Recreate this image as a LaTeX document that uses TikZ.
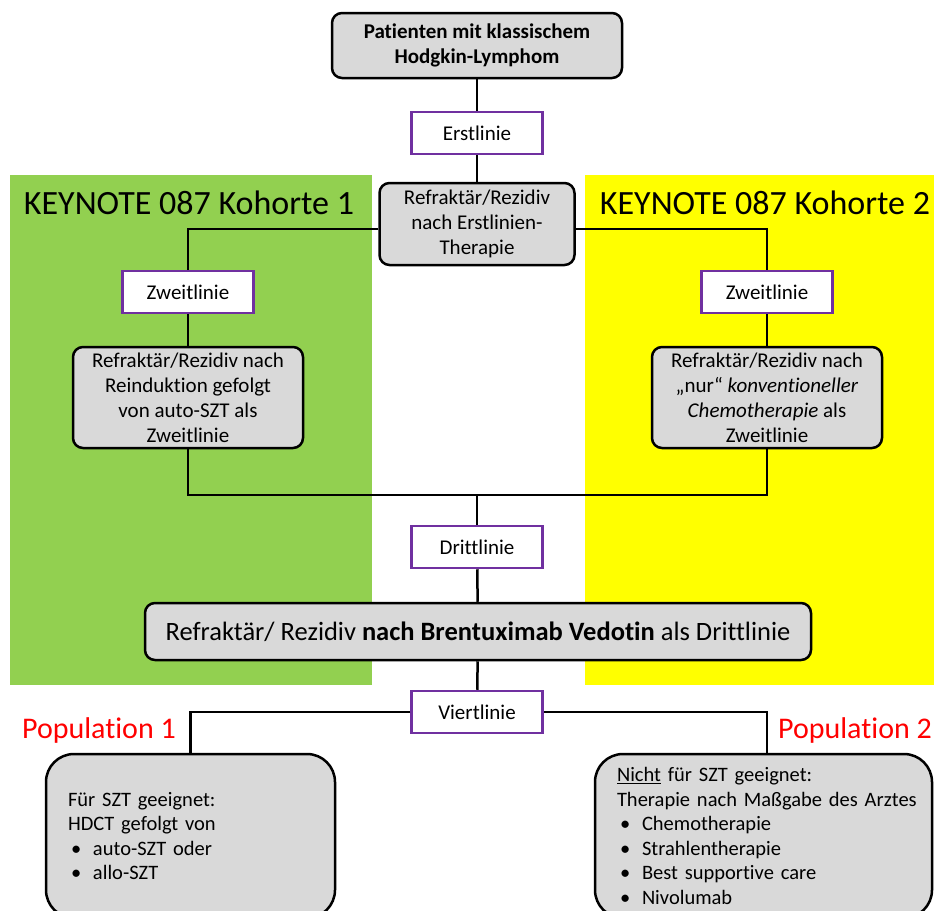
\documentclass[tikz,border=0pt]{standalone}
\usepackage{fontspec}
\setmainfont{Carlito}[Ligatures=NoCommon]
\definecolor{gruen}{HTML}{92D050}
\definecolor{gelb}{HTML}{FFFF00}
\definecolor{grau}{HTML}{D9D9D9}
\definecolor{lila}{HTML}{7030A0}
\newcommand{\aufz}{\makebox[25pt][l]{\hspace{3pt}\textbullet}}

\begin{document}
\begin{tikzpicture}[x=1pt,y=-1pt,
  box/.style={draw,line width=2.5pt,fill=grau,rounded corners=10pt,align=center,
    font=\fontsize{21}{25}\selectfont},
  linie/.style={draw=lila,line width=2.5pt,fill=white,minimum width=131pt,
    minimum height=42pt,font=\fontsize{21}{25}\selectfont},
  titel/.style={font=\fontsize{34}{38}\selectfont},
  pop/.style={text=red,font=\fontsize{30}{34}\selectfont},
  verb/.style={line width=2.5pt}]

\useasboundingbox (0,0) rectangle (934,910);
\clip (0,0) rectangle (934,910);

% Kohorten
\fill[gruen] (10,175) rectangle (372,685);
\fill[gelb] (585,175) rectangle (934,685);

\node[titel]
(T1)
at (189,203)
{KEYNOTE 087 Kohorte 1};

\node[titel]
(T2)
at (765,203)
{KEYNOTE 087 Kohorte 2};

% Patienten
\node[box,minimum width=290pt,minimum height=65pt]
(PH)
at (477,45.5)
{\textbf{Patienten mit klassischem}\\\textbf{Hodgkin-Lymphom}};

\node[linie]
(E1)
at (477,133)
{Erstlinie};

\node[box,minimum width=195pt,minimum height=82pt]
(R1)
at (477,224)
{Refraktär/Rezidiv\\nach Erstlinien-\\Therapie};

% Zweitlinie
\node[linie]
(Z1)
at (188,292)
{Zweitlinie};

\node[linie]
(Z2)
at (767,292)
{Zweitlinie};

\node[box,minimum width=230pt,minimum height=101pt]
(K1)
at (188,397.5)
{Refraktär/Rezidiv nach\\Reinduktion gefolgt\\von auto-SZT als\\Zweitlinie};

\node[box,minimum width=230pt,minimum height=101pt]
(K2)
at (767,397.5)
{Refraktär/Rezidiv nach\\„nur“ \textit{konventioneller}\\\textit{Chemotherapie} als\\Zweitlinie};

\coordinate (J) at (477,495);

% Drittlinie
\node[linie]
(D3)
at (477,547)
{Drittlinie};

\node[box,minimum width=666pt,minimum height=57pt,font=\fontsize{26.5}{30}\selectfont]
(R3)
at (478,631.5)
{Refraktär/ Rezidiv \textbf{nach Brentuximab Vedotin} als Drittlinie};

% Viertlinie
\node[linie]
(V4)
at (477,712)
{Viertlinie};

\node[pop]
(L1)
at (99,730)
{Population 1};

\node[pop]
(L2)
at (855,730)
{Population 2};

\node[box,rounded corners=28pt,align=left,text width=245pt,inner xsep=22pt,
  minimum height=164pt,font=\fontsize{20.5}{24.5}\selectfont]
(P1)
at (190.5,836)
{Für SZT geeignet:\\HDCT gefolgt von\\\aufz auto-SZT oder\\\aufz allo-SZT};

\node[box,rounded corners=28pt,align=left,text width=293pt,inner xsep=22pt,
  minimum height=164pt,font=\fontsize{20.5}{24.5}\selectfont]
(P2)
at (763.5,836)
{\underline{Nicht} für SZT geeignet:\\\mbox{Therapie nach Maßgabe des Arztes}\\
\aufz Chemotherapie\\\aufz Strahlentherapie\\\aufz Best supportive care\\\aufz Nivolumab};

\draw[verb] (PH) -- (E1);
\draw[verb] (E1) -- (R1);
\draw[verb] ([yshift=-5pt]R1.west) -| (Z1);
\draw[verb] ([yshift=-5pt]R1.east) -| (Z2);
\draw[verb] (Z1) -- (K1);
\draw[verb] (Z2) -- (K2);
\draw[verb] (K1) |- (J) -| (K2);
\draw[verb] (J) -- (D3);
\draw[verb] (D3) -- (R3);
\draw[verb] (R3) -- (V4);
\draw[verb] (V4) -| (P1);
\draw[verb] (V4) -| ([xshift=3.5pt]P2.north);

\end{tikzpicture}
\end{document}
